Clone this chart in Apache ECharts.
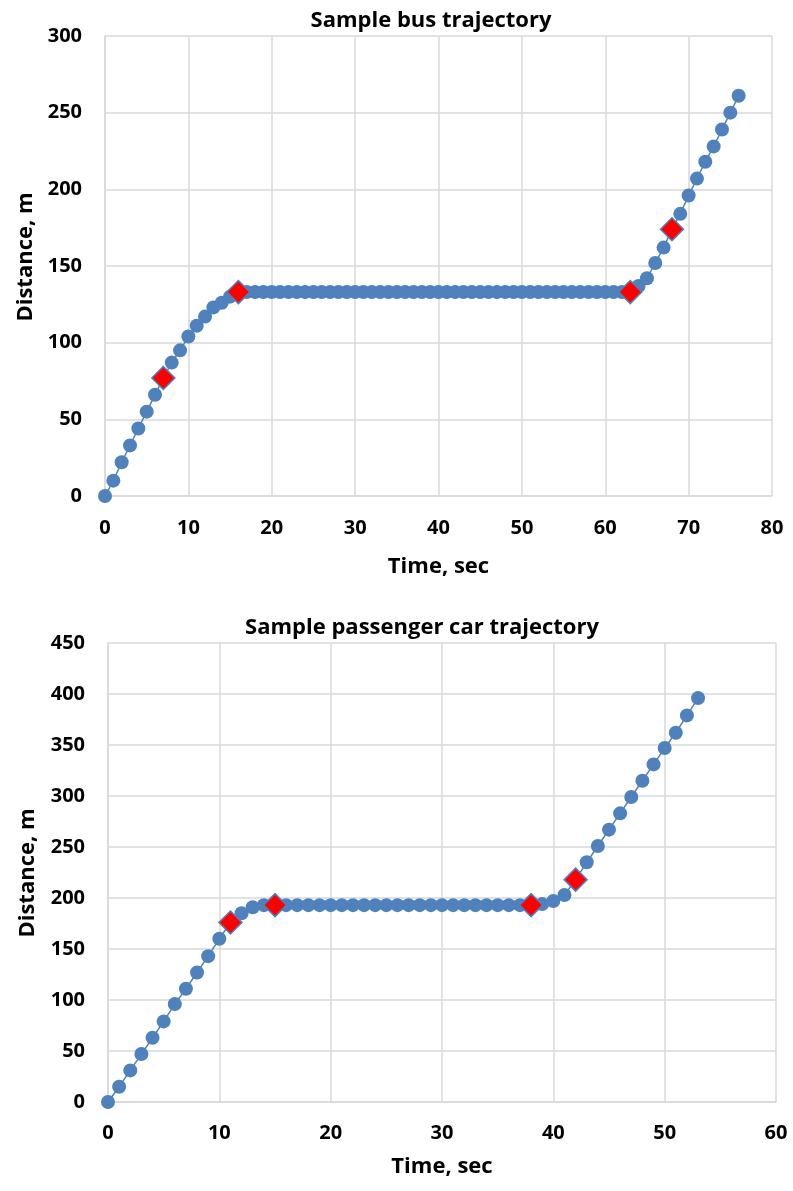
<!DOCTYPE html>
<html><head><meta charset="utf-8">
<script src="https://cdn.jsdelivr.net/npm/echarts@6/dist/echarts.min.js"></script>
<style>html,body{margin:0;padding:0;background:#fff}#c{width:793px;height:1191px}</style>
</head><body><div id="c"></div>
<script>
// Bus trajectory
const busTime = [0,1,2,3,4,5,6,7,8,9,10,11,12,13,14,15,16,17,18,19,20,21,22,23,24,25,26,27,28,29,30,31,32,33,34,35,36,37,38,39,40,41,42,43,44,45,46,47,48,49,50,51,52,53,54,55,56,57,58,59,60,61,62,63,64,65,66,67,68,69,70,71,72,73,74,75,76];
const busDist = [0,10,22,33,44,55,66,77,87,95,104,111,117,123,126,130,133,133,133,133,133,133,133,133,133,133,133,133,133,133,133,133,133,133,133,133,133,133,133,133,133,133,133,133,133,133,133,133,133,133,133,133,133,133,133,133,133,133,133,133,133,133,133,133,137,142,152,162,174,184,196,207,218,228,239,250,261];
const busMarkTime = [7,16,63,68];
const busMarkDist = [77,133,133,174];
// Passenger car trajectory
const carTime = [0,1,2,3,4,5,6,7,8,9,10,11,12,13,14,15,16,17,18,19,20,21,22,23,24,25,26,27,28,29,30,31,32,33,34,35,36,37,38,39,40,41,42,43,44,45,46,47,48,49,50,51,52,53];
const carDist = [0,15,31,47,63,79,96,111,127,143,160,176,185,191,193,193,193,193,193,193,193,193,193,193,193,193,193,193,193,193,193,193,193,193,193,193,193,193,193,194,197,203,218,235,251,267,283,299,315,331,347,362,379,396];
const carMarkTime = [11,15,38,42];
const carMarkDist = [176,193,193,218];

const titles = ['Sample bus trajectory','Sample passenger car trajectory'];
const xName = 'Time, sec';
const yName = 'Distance, m';

const FONT = '"Open Sans", sans-serif';
const txt = {fontFamily: FONT, fontWeight: 'bold', fontSize: 20, color: '#000'};
const big = {fontFamily: FONT, fontWeight: 'bold', fontSize: 22, color: '#000'};
const zip = (a,b) => a.map((v,i)=>[v,b[i]]);

function axes(idx, xmax, xint, ymax, yint, lblMargin, nameGap){
  return {
    x: {type:'value', gridIndex: idx, min:0, max:xmax, interval:xint,
      name: xName, nameLocation:'middle', nameGap: nameGap, nameTextStyle: Object.assign({}, big),
      axisLine:{show:true, lineStyle:{color:'#D9D9D9', width:1.5}}, axisTick:{show:false},
      axisLabel: Object.assign({margin:lblMargin}, txt),
      splitLine:{show:true, lineStyle:{color:'#D9D9D9', width:1.5}}},
    y: {type:'value', gridIndex: idx, min:0, max:ymax, interval:yint,
      axisLine:{show:true, lineStyle:{color:'#D9D9D9', width:1.5}}, axisTick:{show:false},
      axisLabel: Object.assign({margin:23}, txt),
      splitLine:{show:true, lineStyle:{color:'#D9D9D9', width:1.5}}}
  };
}
const a0 = axes(0, 80, 10, 300, 50, 22, 60);
const a1 = axes(1, 60, 10, 450, 50, 21, 54);

function lineSeries(idx, t, d){
  return {type:'line', xAxisIndex: idx, yAxisIndex: idx, data: zip(t,d),
    symbol:'circle', symbolSize:14, showAllSymbol:true,
    itemStyle:{color:'#4F81BD'}, lineStyle:{color:'#4F81BD', width:1.5}, z:2, animation:false};
}
function markSeries(idx, t, d){
  return {type:'scatter', xAxisIndex: idx, yAxisIndex: idx, data: zip(t,d),
    symbol:'diamond', symbolSize:[23,23],
    itemStyle:{color:'#FF0000', borderColor:'#4F81BD', borderWidth:1.5, opacity:1}, z:3, animation:false};
}

const chart = echarts.init(document.getElementById('c'), null, {renderer:'canvas'});
chart.setOption({
  backgroundColor:'#fff',
  animation:false,
  title:[
    {text: titles[0], left: 426, top: 5, textAlign:'center', textStyle: Object.assign({}, big)},
    {text: titles[1], left: 417, top: 612, textAlign:'center', textStyle: Object.assign({}, big)}
  ],
  graphic:[
    {type:'text', x:26, y:257, rotation:Math.PI/2, style:{text:yName, textAlign:'center', textVerticalAlign:'middle', font:'bold 22px "Open Sans", sans-serif', fill:'#000'}},
    {type:'text', x:28, y:873, rotation:Math.PI/2, style:{text:yName, textAlign:'center', textVerticalAlign:'middle', font:'bold 22px "Open Sans", sans-serif', fill:'#000'}}
  ],
  grid:[
    {left:105, top:36, width:667, height:460},
    {left:108, top:643, width:668, height:459}
  ],
  xAxis:[a0.x, a1.x],
  yAxis:[a0.y, a1.y],
  series:[
    lineSeries(0, busTime, busDist), markSeries(0, busMarkTime, busMarkDist),
    lineSeries(1, carTime, carDist), markSeries(1, carMarkTime, carMarkDist)
  ]
});
</script></body></html>
